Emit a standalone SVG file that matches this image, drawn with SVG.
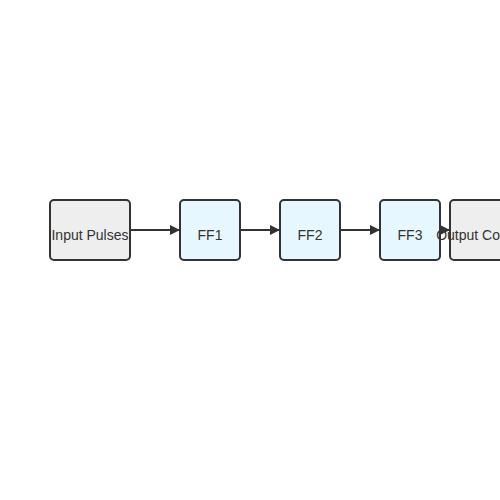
<svg xmlns="http://www.w3.org/2000/svg" width="500" height="500" viewBox="0 0 500 500">
<style>
.box{stroke:#333;stroke-width:2}
.io{fill:#eeeeee}
.ff{fill:#e6f7ff}
text{font-family:"Liberation Sans",Arial,sans-serif;font-size:14px;fill:#333;text-anchor:middle}
.edge{stroke:#333;stroke-width:2;fill:none}
</style>
<defs>
<marker id="arr" markerWidth="10" markerHeight="10" refX="10" refY="5" orient="auto" markerUnits="userSpaceOnUse">
<path d="M0,0 L10,5 L0,10 Z" fill="#333"/>
</marker>
</defs>
<rect width="500" height="500" fill="#fff"/>
<g id="input"><rect class="box io" x="50" y="200" width="80" height="60" rx="4"/><text x="90" y="240">Input Pulses</text></g>
<g id="ff1"><rect class="box ff" x="180" y="200" width="60" height="60" rx="4"/><text x="210" y="240">FF1</text></g>
<g id="ff2"><rect class="box ff" x="280" y="200" width="60" height="60" rx="4"/><text x="310" y="240">FF2</text></g>
<g id="ff3"><rect class="box ff" x="380" y="200" width="60" height="60" rx="4"/><text x="410" y="240">FF3</text></g>
<g id="output"><rect class="box io" x="450" y="200" width="80" height="60" rx="4"/></g>
<g id="connectors">
<line class="edge" x1="130" y1="230" x2="180" y2="230" marker-end="url(#arr)"/>
<line class="edge" x1="240" y1="230" x2="280" y2="230" marker-end="url(#arr)"/>
<line class="edge" x1="340" y1="230" x2="380" y2="230" marker-end="url(#arr)"/>
<line class="edge" x1="440" y1="230" x2="450" y2="230" marker-end="url(#arr)"/>
</g>
<text x="484" y="240">Output Counter</text>
</svg>
